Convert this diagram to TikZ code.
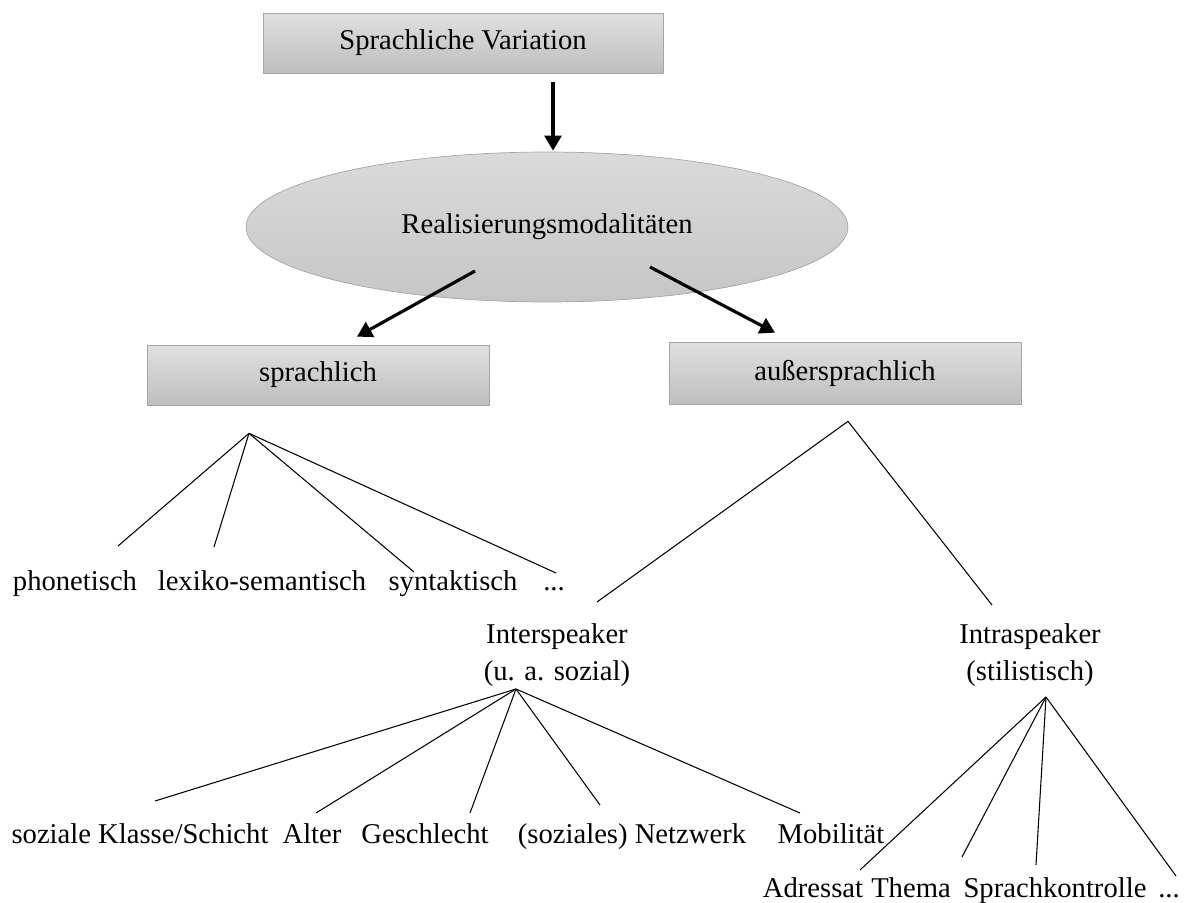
\documentclass[tikz,border=0pt]{standalone}
\usepackage{fontspec}
\setmainfont{Liberation Serif}
\usetikzlibrary{shapes.geometric,arrows.meta,calc}

\definecolor{boxtop}{RGB}{224,224,224}
\definecolor{boxbottom}{RGB}{190,190,190}
\definecolor{boxline}{RGB}{165,165,165}
\definecolor{elltop}{RGB}{218,218,218}
\definecolor{ellbottom}{RGB}{198,198,198}

\newcommand\etcdots{...}

\begin{document}
\begin{tikzpicture}[x=0.02cm, y=-0.02cm, font=\fontsize{16.3}{21}\selectfont,
    box/.style={draw=boxline, top color=boxtop, bottom color=boxbottom, inner sep=0pt},
    arr/.style={line width=1.8pt, -{Triangle[length=8.5pt,width=9.5pt]}},
    branch/.style={line width=0.6pt},
    lab/.style={inner sep=0pt, anchor=base}]
    \useasboundingbox (0,0) rectangle (1184,903);

    % boxes and ellipse
    \node[box, minimum width=8cm, minimum height=1.2cm] (variation) at (463,43) {Sprachliche Variation};
    \node[box, ellipse, top color=elltop, bottom color=ellbottom,
      minimum width=12.04cm, minimum height=3cm] (modal) at (547,227) {Realisierungsmodalitäten};
    \node[box, minimum width=6.84cm, minimum height=1.2cm] (sprach) at (318,375) {sprachlich};
    \node[box, minimum width=7.04cm, minimum height=1.24cm] (ausser) at (845,373) {außersprachlich};

    \draw[arr] ($(variation.south)+(90,9)$) -- ($(modal.north)+(6,-1)$);
    \draw[arr] ($(modal.center)+(-72,44)$) -- ($(sprach.north)+(39,-8)$);
    \draw[arr] ($(modal.center)+(103,40)$) -- ($(ausser.north)+(-70,-9)$);

    % sprachlich
    \coordinate (sroot) at ($(sprach.south)+(-69,28)$);
    \foreach \n/\x/\t in {phon/75/phonetisch, lex/262/lexiko-semantisch,
                          syn/453/syntaktisch, sdots/554/\etcdots}
      \node[lab] (\n) at (\x,590) {\t};
    \foreach \n/\dx/\dy in {phon/43/-44, lex/-48/-43, syn/-39/-18, sdots/2/-17}
      \draw[branch] (sroot) -- ($(\n.base)+(\dx,\dy)$);

    % aussersprachlich (base = last line)
    \coordinate (aroot) at ($(ausser.south)+(3,17)$);
    \node[lab, align=center] (inter) at (557,680) {Interspeaker\\(u. a. sozial)};
    \node[lab, align=center] (intra) at (1030,680) {Intraspeaker\\(stilistisch)};
    \draw[branch] (aroot) -- ($(inter.base)+(40,-78)$);
    \draw[branch] (aroot) -- ($(intra.base)+(-38,-75)$);

    \coordinate (iroot) at ($(inter.base)+(-41,9)$);
    \coordinate (troot) at ($(intra.base)+(16,17)$);

    \foreach \n/\x/\t in {klasse/140/{soziale Klasse/Schicht}, alter/312/Alter,
                          geschl/425/Geschlecht, netz/632/(soziales) Netzwerk, mobil/831/Mobilität}
      \node[lab] (\n) at (\x,843) {\t};
    \foreach \n/\dx/\dy in {klasse/15/-42, alter/4/-30, geschl/45/-30, netz/-32/-38, mobil/-31/-30}
      \draw[branch] (iroot) -- ($(\n.base)+(\dx,\dy)$);

    \foreach \n/\x/\t in {adr/813/Adressat, thema/911/Thema,
                          kontr/1055/Sprachkontrolle, tdots/1169/\etcdots}
      \node[lab] (\n) at (\x,897) {\t};
    \foreach \n/\dx/\dy in {adr/47/-27, thema/51/-40, kontr/-19/-32, tdots/7/-21}
      \draw[branch] (troot) -- ($(\n.base)+(\dx,\dy)$);
\end{tikzpicture}
\end{document}
